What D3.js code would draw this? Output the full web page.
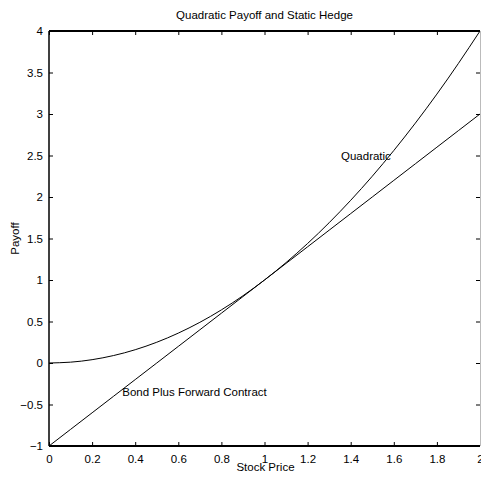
<!DOCTYPE html>
<html>
<head>
<meta charset="utf-8">
<script src="https://cdn.jsdelivr.net/npm/d3@7"></script>
<style>
  html, body { margin: 0; padding: 0; background: #fff; }
  svg { display: block; font-family: "Liberation Sans", Arial, Helvetica, sans-serif; }
</style>
</head>
<body>
<svg id="chart" width="481" height="481"></svg>
<script>
// ---- data ----
const stockPrice = [0, 0.1, 0.2, 0.3, 0.4, 0.5, 0.6, 0.7, 0.8, 0.9, 1.0,
                    1.1, 1.2, 1.3, 1.4, 1.5, 1.6, 1.7, 1.8, 1.9, 2.0];
const quadraticPayoff = [0, 0.01, 0.04, 0.09, 0.16, 0.25, 0.36, 0.49, 0.64, 0.81, 1.0,
                         1.21, 1.44, 1.69, 1.96, 2.25, 2.56, 2.89, 3.24, 3.61, 4.0];
const hedgePayoff = [-1, -0.8, -0.6, -0.4, -0.2, 0, 0.2, 0.4, 0.6, 0.8, 1.0,
                     1.2, 1.4, 1.6, 1.8, 2.0, 2.2, 2.4, 2.6, 2.8, 3.0];
const xTicks = [0, 0.2, 0.4, 0.6, 0.8, 1, 1.2, 1.4, 1.6, 1.8, 2];
const yTicks = [-1, -0.5, 0, 0.5, 1, 1.5, 2, 2.5, 3, 3.5, 4];
const titleText = "Quadratic Payoff and Static Hedge";
const xLabel = "Stock Price";
const yLabel = "Payoff";
const annotations = [
  { text: "Quadratic", x: 1.355, y: 2.49 },
  { text: "Bond Plus Forward Contract", x: 0.34, y: -0.345 }
];

// ---- layout ----
const svg = d3.select("#chart");
const L = 49, R = 480, T = 31, B = 446;
const x = d3.scaleLinear().domain([0, 2]).range([L, R]);
const y = d3.scaleLinear().domain([-1, 4]).range([B, T]);
const fs = "11.5px";

// curves
const line = d3.line().x((d, i) => x(stockPrice[i])).y(d => y(d)).curve(d3.curveNatural);
const g = svg.append("g");
g.append("path").datum(quadraticPayoff).attr("d", line)
  .attr("fill", "none").attr("stroke", "#000").attr("stroke-width", 1);
g.append("path").datum(hedgePayoff).attr("d", line)
  .attr("fill", "none").attr("stroke", "#000").attr("stroke-width", 1);

// axes (inward ticks on all sides)
const tk = 4;
const fmt = d => (d < 0 ? "\u2212" + Math.abs(d) : String(d));
svg.append("g").attr("transform", `translate(0,${B})`)
  .call(d3.axisBottom(x).tickValues(xTicks).tickSize(-tk).tickPadding(9).tickFormat(fmt))
  .call(a => a.select(".domain").remove())
  .call(a => a.selectAll("text").attr("font-size", fs).attr("font-family", null));
svg.append("g").attr("transform", `translate(0,${T})`)
  .call(d3.axisTop(x).tickValues(xTicks).tickSize(-tk).tickFormat(""))
  .call(a => a.select(".domain").remove());
svg.append("g").attr("transform", `translate(${L},0)`)
  .call(d3.axisLeft(y).tickValues(yTicks).tickSize(-tk).tickPadding(6).tickFormat(fmt))
  .call(a => a.select(".domain").remove())
  .call(a => a.selectAll("text").attr("font-size", fs).attr("font-family", null));
svg.append("g").attr("transform", `translate(${R},0)`)
  .call(d3.axisRight(y).tickValues(yTicks).tickSize(-tk).tickFormat(""))
  .call(a => a.select(".domain").remove());

// frame
svg.append("line").attr("x1", L).attr("x2", R).attr("y1", T).attr("y2", T)
  .attr("stroke", "#000").attr("stroke-width", 2);
svg.append("line").attr("x1", L).attr("x2", R).attr("y1", B).attr("y2", B)
  .attr("stroke", "#000").attr("stroke-width", 2);
svg.append("line").attr("x1", L).attr("x2", L).attr("y1", T).attr("y2", B)
  .attr("stroke", "#000").attr("stroke-width", 1.5);
svg.append("line").attr("x1", R + 0.5).attr("x2", R + 0.5).attr("y1", T).attr("y2", B)
  .attr("stroke", "#bbb").attr("stroke-width", 1);

// title & labels
svg.append("text").attr("x", (L + R) / 2).attr("y", 19).attr("text-anchor", "middle")
  .attr("font-size", fs).text(titleText);
svg.append("text").attr("x", (L + R) / 2 + 1).attr("y", 471).attr("text-anchor", "middle")
  .attr("font-size", fs).text(xLabel);
svg.append("text").attr("transform", `translate(19,${(T + B) / 2}) rotate(-90)`)
  .attr("text-anchor", "middle").attr("font-size", fs).text(yLabel);

// annotations
svg.selectAll("text.ann").data(annotations).enter().append("text")
  .attr("class", "ann")
  .attr("x", d => x(d.x)).attr("y", d => y(d.y)).attr("dy", "0.35em")
  .attr("font-size", fs).text(d => d.text);
</script>
</body>
</html>
